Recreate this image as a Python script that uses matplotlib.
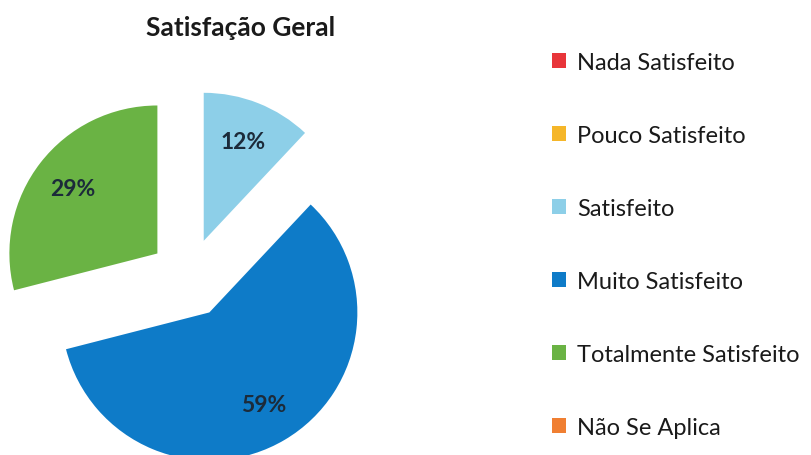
import matplotlib
matplotlib.use("Agg")
import matplotlib.pyplot as plt
from matplotlib.patches import Patch

categories = ["Nada Satisfeito", "Pouco Satisfeito", "Satisfeito",
              "Muito Satisfeito", "Totalmente Satisfeito", "Não Se Aplica"]
values = [0, 0, 12, 59, 29, 0]
colors = ["#e8353a", "#f5b629", "#8dcfe8", "#0e7bc8", "#6ab344", "#f07f32"]
title = "Satisfação Geral"

plt.rcParams['font.family'] = ['Lato', 'DejaVu Sans']

fig = plt.figure(figsize=(8.11, 4.56), dpi=100)
ax = fig.add_axes([0, 0, 1, 1])

nz = [i for i, v in enumerate(values) if v > 0]
vals = [values[i] for i in nz]
cols = [colors[i] for i in nz]
radius = 148
wedges, texts, autotexts = ax.pie(
    vals, colors=cols, startangle=90, counterclock=False,
    explode=[40] * len(vals), radius=radius, center=(189, 177),
    autopct=lambda p: f"{round(p)}%", pctdistance=0.72, frame=True,
    textprops=dict(fontsize=16.5, fontweight='bold', color='#1c2b3a'))
ax.set_xlim(0, 811)
ax.set_ylim(0, 456)
ax.set_aspect('equal')
ax.axis('off')

ax.text(241, 428, title, ha='center', va='center', fontsize=19,
        fontweight='bold', color='#1a1a1a')

handles = [Patch(facecolor=c, edgecolor='none') for c in colors]
leg = ax.legend(handles, categories, loc='upper left',
                bbox_to_anchor=(552 / 811, 1 - 53 / 456),
                bbox_transform=fig.transFigure,
                frameon=False, fontsize=17, handlelength=0.6, handleheight=0.6,
                handletextpad=0.45, labelspacing=2.2, borderpad=0, borderaxespad=0)
for t in leg.get_texts():
    t.set_color('#1a1a1a')

fig.savefig("out.png", dpi=100)
